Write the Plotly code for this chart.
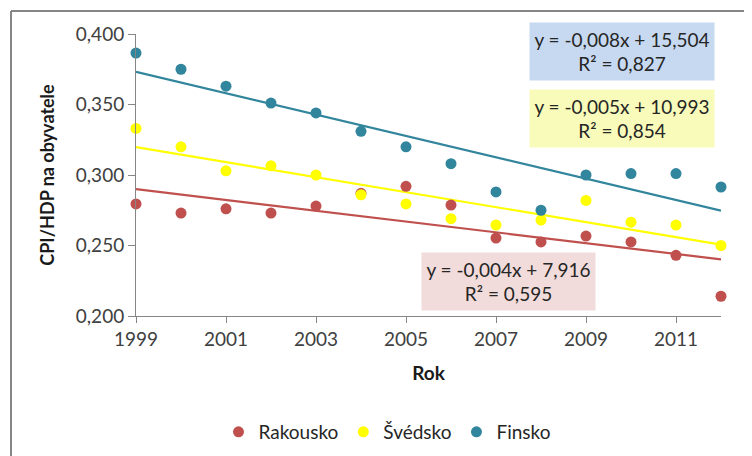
import numpy as np
import plotly.graph_objects as go

years = list(range(1999, 2013))
rakousko = [0.2795, 0.273, 0.276, 0.273, 0.278, 0.287, 0.292, 0.2787, 0.2553, 0.2525, 0.2567, 0.2525, 0.243, 0.214]
svedsko = [0.333, 0.320, 0.303, 0.3065, 0.300, 0.286, 0.2795, 0.269, 0.2645, 0.268, 0.282, 0.2665, 0.2645, 0.250]
finsko = [0.3865, 0.375, 0.363, 0.351, 0.344, 0.331, 0.320, 0.308, 0.288, 0.275, 0.300, 0.301, 0.301, 0.2915]

series_names = ["Rakousko", "Švédsko", "Finsko"]
series_values = [rakousko, svedsko, finsko]
colors = ["#C0504D", "#FFFF00", "#31859C"]
eq_texts = [
    "y = -0,004x + 7,916<br>R² = 0,595",
    "y = -0,005x + 10,993<br>R² = 0,854",
    "y = -0,008x + 15,504<br>R² = 0,827",
]
box_colors = ["#F2DCDB", "#F8FBB9", "#C6D9F1"]

y_ticks = [0.200, 0.250, 0.300, 0.350, 0.400]

W, H = 752, 456
OFF = 8  # page body margin offset
# plot area in reference (screen) pixels
SL, SR, ST, SB = 136, 721, 34, 316
L, R, T, B = SL - OFF, SR - OFF, ST - OFF, SB - OFF


def px(x):
    return (x - SL) / (SR - SL)


def py(y):
    return (SB - y) / (SB - ST)


FONT = "Lato"
fig = go.Figure()

yrs = np.array(years, dtype=float)
# trend lines first (under markers)
for name, vals, col in zip(series_names, series_values, colors):
    k, q = np.polyfit(yrs, np.array(vals), 1)
    xs = [years[0], years[-1]]
    ys = [k * x + q for x in xs]
    fig.add_trace(go.Scatter(x=xs, y=ys, mode="lines", line=dict(color=col, width=2.2),
                             showlegend=False, hoverinfo="skip", cliponaxis=False))

for name, vals, col in zip(series_names, series_values, colors):
    fig.add_trace(go.Scatter(x=years, y=vals, mode="markers", name=name,
                             marker=dict(color=col, size=11, line=dict(width=0)),
                             cliponaxis=False))

# equation boxes
box_pos = [((422 + 595) / 2, (253 + 310) / 2, 173),
           ((530 + 714) / 2, (90 + 147) / 2, 184),
           ((530 + 714) / 2, (23 + 80) / 2, 184)]
for txt, bc, (cx, cy, w) in zip(eq_texts, box_colors, box_pos):
    fig.add_annotation(x=px(cx), y=py(cy), xref="paper", yref="paper", text=txt,
                       xanchor="center", yanchor="middle",
                       showarrow=False, bgcolor=bc, width=w, height=57, borderpad=0,
                       font=dict(family=FONT, size=19, color="#262626"), align="center")

# chart border (left and top edges visible)
border_col = "#868686"
fig.add_shape(type="line", xref="paper", yref="paper", x0=px(11), x1=px(800), y0=py(11), y1=py(11),
              line=dict(color=border_col, width=2))
fig.add_shape(type="line", xref="paper", yref="paper", x0=px(11), x1=px(11), y0=py(11), y1=py(500),
              line=dict(color=border_col, width=2))

fig.update_layout(
    width=W, height=H,
    margin=dict(l=L, r=W - R, t=T, b=H - B, autoexpand=False),
    paper_bgcolor="white", plot_bgcolor="white",
    separators=",.",
    font=dict(family=FONT, color="#404040", size=18),
    legend=dict(orientation="h", x=px(387), xanchor="center", y=py(432), yanchor="middle",
                font=dict(family=FONT, size=19, color="#262626"), itemwidth=30,
                tracegroupgap=0, bgcolor="rgba(0,0,0,0)"),
    xaxis=dict(range=[1999, 2012], tick0=1999, dtick=2, ticks="outside", ticklen=6,
               tickcolor=border_col, showline=True, linecolor=border_col, linewidth=1,
               showgrid=False, zeroline=False, automargin=False,
               tickfont=dict(family=FONT, size=19, color="#404040"),
               title=dict(text="<b>Rok</b>", standoff=17,
                          font=dict(family=FONT, size=19, color="#1a1a1a"))),
    yaxis=dict(range=[0.2, 0.4], tickvals=y_ticks, tickformat=".3f", ticks="outside", ticklen=7,
               tickcolor=border_col, showline=True, linecolor=border_col, linewidth=1,
               showgrid=False, zeroline=False, automargin=False,
               tickfont=dict(family=FONT, size=19, color="#404040"),
               title=dict(text="<b>CPI/HDP na obyvatele</b>", standoff=16,
                          font=dict(family=FONT, size=18, color="#1a1a1a"))),
)

fig.write_html("out.html")
